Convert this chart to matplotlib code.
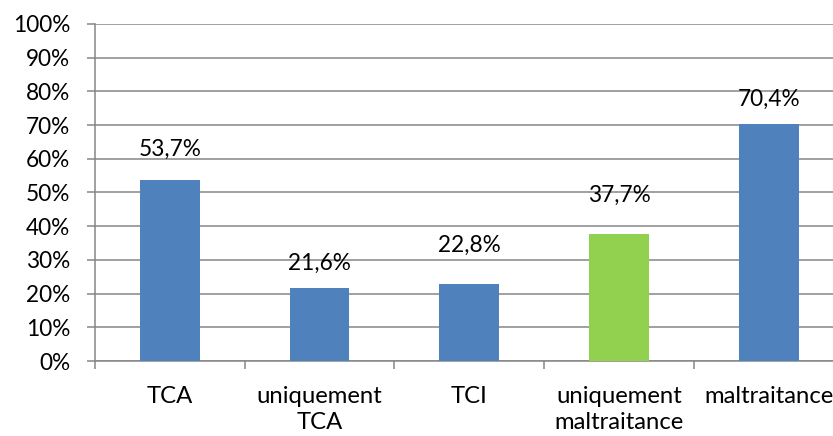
import matplotlib
matplotlib.use("Agg")
import matplotlib.pyplot as plt
import numpy as np

categories = ["TCA", "uniquement\nTCA", "TCI", "uniquement\nmaltraitance", "maltraitance"]
values = [53.7, 21.6, 22.8, 37.7, 70.4]
labels = ["53,7%", "21,6%", "22,8%", "37,7%", "70,4%"]
colors = ["#4F81BD", "#4F81BD", "#4F81BD", "#92D050", "#4F81BD"]
label_gap_px = [24, 18, 32, 32, 18]
yticks = list(range(0, 101, 10))

plt.rcParams['font.family'] = ['Lato', 'DejaVu Sans']
W, H = 833, 436
fig = plt.figure(figsize=(W / 100, H / 100), dpi=100)
ax = fig.add_axes([95 / W, 1 - 361 / H, 748.5 / W, 337 / H])

x = np.arange(len(categories))
ax.bar(x, values, width=0.4, color=colors, zorder=3)
ax.set_xlim(-0.5, len(categories) - 0.5)
ax.set_ylim(0, 100)

grid_c = "#868686"
ax.set_yticks(yticks)
ax.set_yticklabels([f"{t}%" for t in yticks], fontsize=16.3)
ax.yaxis.grid(True, color=grid_c, linewidth=1.1, zorder=0)
ax.tick_params(axis='y', direction='out', length=6, width=1.1, color=grid_c, pad=12)

ax.set_xticks(np.arange(len(categories) + 1) - 0.5)
ax.set_xticklabels([])
ax.tick_params(axis='x', which='major', direction='out', length=6, width=1.1, color=grid_c)
ax.set_xticks(x, minor=True)
ax.set_xticklabels(categories, minor=True, fontsize=17.2, linespacing=1.3)
ax.tick_params(axis='x', which='minor', length=0, pad=18)

for s in ['top', 'right']:
    ax.spines[s].set_visible(False)
for s in ['left', 'bottom']:
    ax.spines[s].set_color(grid_c)
    ax.spines[s].set_linewidth(1.1)

for xi, v, lab, gap in zip(x, values, labels, label_gap_px):
    ax.annotate(lab, (xi, v), xytext=(0, gap * 0.72), textcoords='offset points',
                ha='center', va='baseline', fontsize=16.3, zorder=4)

fig.savefig("out.png", dpi=100)
